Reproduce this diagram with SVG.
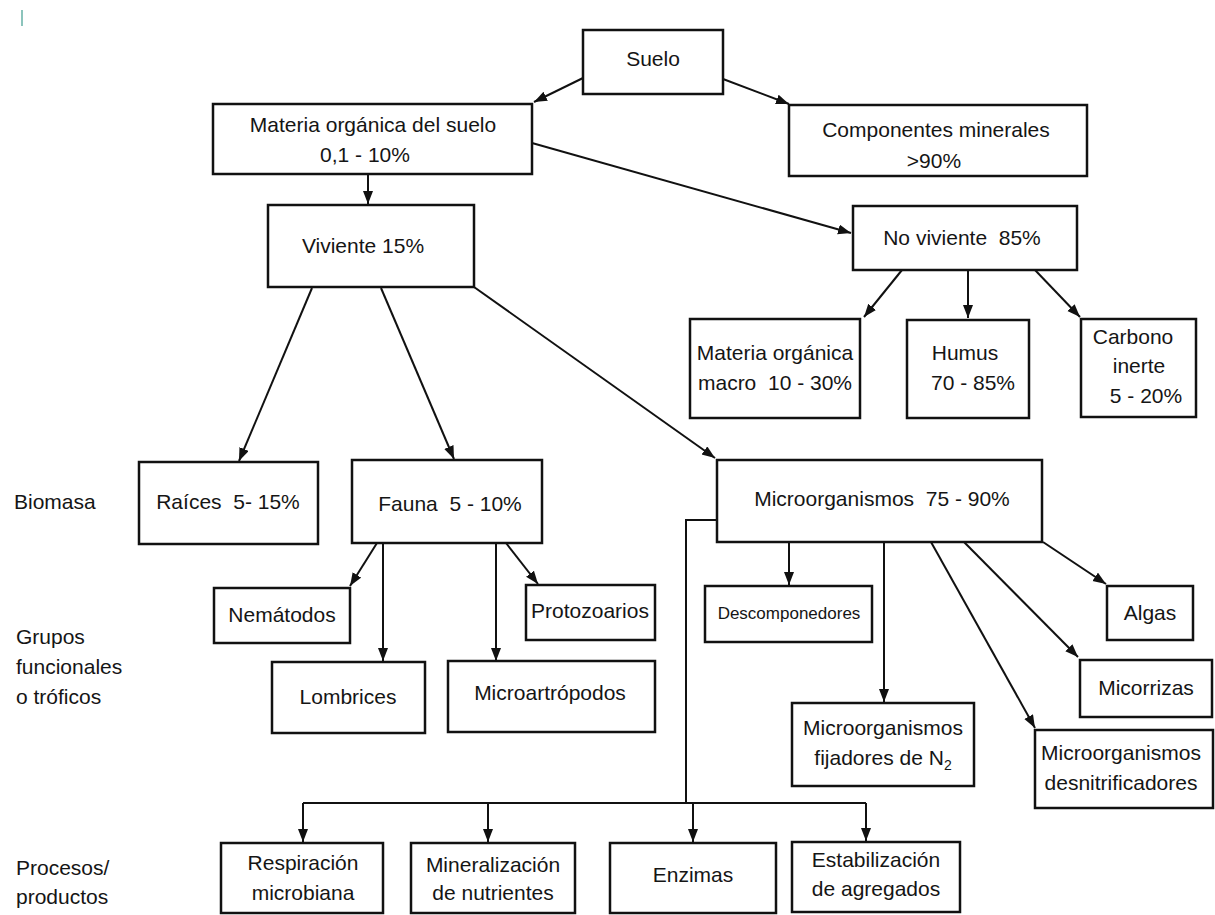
<svg xmlns="http://www.w3.org/2000/svg" width="1215" height="915" viewBox="0 0 1215 915">
<style>
.box{fill:#fff;stroke:#111;stroke-width:2.5}
text{font-family:"Liberation Sans",Arial,sans-serif;font-size:21px;fill:#151515;text-anchor:middle;white-space:pre}
.lbl{text-anchor:start}
.sm{font-size:17px}
.c{fill:none;stroke:#111;stroke-width:2}
</style>
<defs>
<marker id="ah" markerUnits="userSpaceOnUse" markerWidth="15" markerHeight="12" refX="13" refY="5" orient="auto">
<path d="M0,0 L13,5 L0,10 Z" fill="#111"/>
</marker>
</defs>
<rect x="21" y="10" width="2" height="16" fill="#8cc4bc"/>
<g id="connectors">
<line class="c" x1="583" y1="78" x2="534" y2="102" marker-end="url(#ah)"/>
<line class="c" x1="723" y1="79" x2="789" y2="104" marker-end="url(#ah)"/>
<line class="c" x1="368" y1="174" x2="368" y2="204" marker-end="url(#ah)"/>
<line class="c" x1="532" y1="143" x2="851" y2="233" marker-end="url(#ah)"/>
<line class="c" x1="902" y1="270" x2="864" y2="317" marker-end="url(#ah)"/>
<line class="c" x1="968" y1="270" x2="968" y2="318" marker-end="url(#ah)"/>
<line class="c" x1="1035" y1="270" x2="1080" y2="317" marker-end="url(#ah)"/>
<line class="c" x1="312" y1="288" x2="239" y2="461" marker-end="url(#ah)"/>
<line class="c" x1="381" y1="288" x2="454" y2="459" marker-end="url(#ah)"/>
<line class="c" x1="474" y1="287" x2="715" y2="458" marker-end="url(#ah)"/>
<line class="c" x1="377" y1="543" x2="350" y2="586" marker-end="url(#ah)"/>
<line class="c" x1="383" y1="543" x2="383" y2="661" marker-end="url(#ah)"/>
<line class="c" x1="496" y1="543" x2="496" y2="661" marker-end="url(#ah)"/>
<line class="c" x1="506" y1="543" x2="538" y2="584" marker-end="url(#ah)"/>
<line class="c" x1="789" y1="542" x2="789" y2="585" marker-end="url(#ah)"/>
<line class="c" x1="884" y1="542" x2="884" y2="702" marker-end="url(#ah)"/>
<line class="c" x1="931" y1="542" x2="1035" y2="728" marker-end="url(#ah)"/>
<line class="c" x1="964" y1="542" x2="1078" y2="657" marker-end="url(#ah)"/>
<line class="c" x1="1043" y1="542" x2="1106" y2="584" marker-end="url(#ah)"/>
<polyline class="c" points="717,520 686,520 686,803"/>
<line class="c" x1="303" y1="803" x2="866" y2="803"/>
<line class="c" x1="303" y1="803" x2="303" y2="842" marker-end="url(#ah)"/>
<line class="c" x1="488" y1="803" x2="488" y2="842" marker-end="url(#ah)"/>
<line class="c" x1="693" y1="803" x2="693" y2="842" marker-end="url(#ah)"/>
<line class="c" x1="866" y1="803" x2="866" y2="841" marker-end="url(#ah)"/>
</g>
<g id="suelo"><rect class="box" x="583" y="30" width="140" height="64"/><text x="653" y="66">Suelo</text></g>
<g id="mo"><rect class="box" x="213" y="104" width="319" height="70"/><text x="373" y="132">Materia orgánica del suelo</text><text x="365" y="162">0,1 - 10%</text></g>
<g id="minerales"><rect class="box" x="789" y="105" width="298" height="71"/><text x="936" y="137">Componentes minerales</text><text x="934" y="168">&gt;90%</text></g>
<g id="viviente"><rect class="box" x="268" y="205" width="206" height="82"/><text x="363" y="253">Viviente 15%</text></g>
<g id="noviviente"><rect class="box" x="853" y="206" width="224" height="64"/><text x="962" y="245">No viviente  85%</text></g>
<g id="momacro"><rect class="box" x="690" y="319" width="170" height="99"/><text x="775" y="360">Materia orgánica</text><text x="775" y="390">macro  10 - 30%</text></g>
<g id="humus"><rect class="box" x="907" y="320" width="122" height="98"/><text x="965" y="360">Humus</text><text x="973" y="390">70 - 85%</text></g>
<g id="carbono"><rect class="box" x="1081" y="319" width="115" height="98"/><text x="1133" y="344">Carbono</text><text x="1139" y="373">inerte</text><text x="1146" y="403">5 - 20%</text></g>
<text class="lbl" x="14" y="509">Biomasa</text>
<g id="raices"><rect class="box" x="139" y="462" width="179" height="82"/><text x="228" y="509">Raíces  5- 15%</text></g>
<g id="fauna"><rect class="box" x="352" y="460" width="190" height="83"/><text x="450" y="511">Fauna  5 - 10%</text></g>
<g id="micro"><rect class="box" x="717" y="460" width="325" height="82"/><text x="882" y="506">Microorganismos  75 - 90%</text></g>
<text class="lbl" x="16" y="644">Grupos</text>
<text class="lbl" x="16" y="674">funcionales</text>
<text class="lbl" x="16" y="704">o tróficos</text>
<g id="nematodos"><rect class="box" x="214" y="588" width="136" height="55"/><text x="282" y="622">Nemátodos</text></g>
<g id="protozoarios"><rect class="box" x="526" y="585" width="129" height="55"/><text x="590" y="618">Protozoarios</text></g>
<g id="lombrices"><rect class="box" x="272" y="662" width="153" height="71"/><text x="348" y="704">Lombrices</text></g>
<g id="microartropodos"><rect class="box" x="448" y="661" width="207" height="71"/><text x="550" y="700">Microartrópodos</text></g>
<g id="descomponedores"><rect class="box" x="705" y="586" width="167" height="56"/><text class="sm" x="789" y="619">Descomponedores</text></g>
<g id="algas"><rect class="box" x="1107" y="586" width="86" height="54"/><text x="1150" y="620">Algas</text></g>
<g id="micorrizas"><rect class="box" x="1080" y="660" width="132" height="57"/><text x="1146" y="695">Micorrizas</text></g>
<g id="fijadores"><rect class="box" x="792" y="703" width="182" height="83"/><text x="883" y="735">Microorganismos</text><text x="883" y="765">fijadores de N<tspan font-size="14" dy="5">2</tspan></text></g>
<g id="desnitrificadores"><rect class="box" x="1035" y="730" width="178" height="78"/><text x="1121" y="760">Microorganismos</text><text x="1121" y="790">desnitrificadores</text></g>
<text class="lbl" x="16" y="875">Procesos/</text>
<text class="lbl" x="16" y="904">productos</text>
<g id="respiracion"><rect class="box" x="221" y="843" width="162" height="70"/><text x="303" y="870">Respiración</text><text x="303" y="900">microbiana</text></g>
<g id="mineralizacion"><rect class="box" x="411" y="843" width="164" height="70"/><text x="493" y="872">Mineralización</text><text x="493" y="900">de nutrientes</text></g>
<g id="enzimas"><rect class="box" x="610" y="843" width="166" height="70"/><text x="693" y="882">Enzimas</text></g>
<g id="estabilizacion"><rect class="box" x="792" y="842" width="168" height="70"/><text x="876" y="867">Estabilización</text><text x="876" y="896">de agregados</text></g>
</svg>
